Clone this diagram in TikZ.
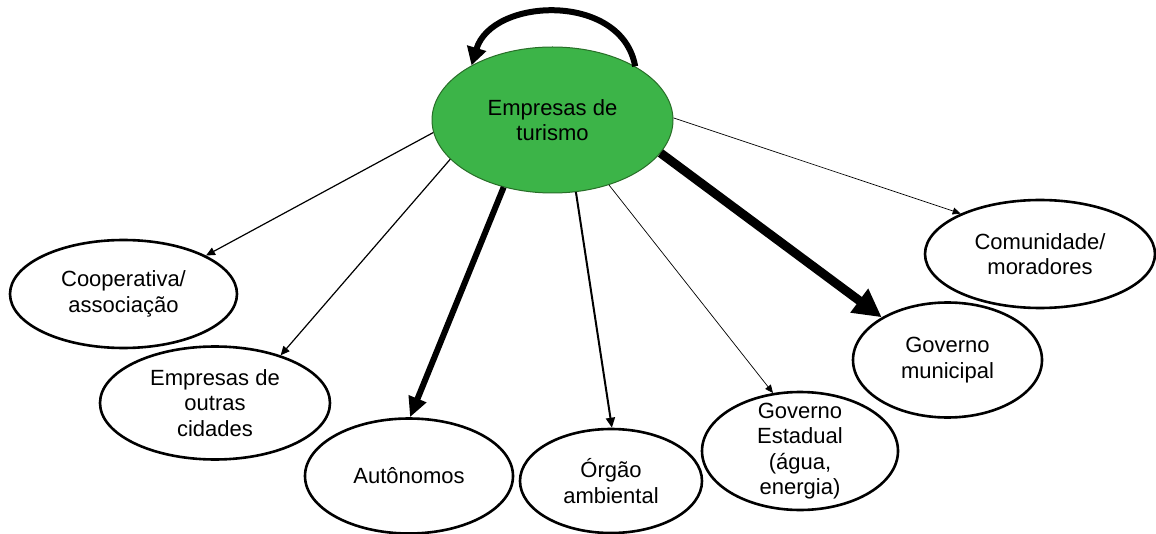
\documentclass[tikz,border=0pt]{standalone}
\usepackage{xcolor}
\usepackage{fontspec}
\setmainfont{Liberation Sans}
\usepackage{tikz}
\usetikzlibrary{positioning,arrows.meta,shapes.geometric}
\definecolor{hubgreen}{RGB}{60,180,72}
\definecolor{hubedge}{RGB}{40,110,40}
\tikzset{
  actor/.style ={ellipse, draw=black, line width=1.3pt, fill=white, inner sep=0pt,
                 align=center, font=\fontsize{11}{12.65}\selectfont},
  hub/.style   ={actor, draw=hubedge, line width=0.5pt, fill=hubgreen},
  hairlink/.style ={-{Triangle[length=4pt,width=3.5pt]}, line width=0.35pt},
  thinlink/.style ={-{Triangle[length=4.5pt,width=4pt]}, line width=0.6pt},
  midlink/.style  ={-{Triangle[length=5pt,width=4.5pt]}, line width=1pt},
  thicklink/.style={-{Triangle[length=10pt,width=9pt]}, line width=3pt},
  heavylink/.style={-{Triangle[length=14pt,width=14pt]}, line width=4.5pt},
}
\begin{document}
\begin{tikzpicture}[x=0.5pt,y=-0.5pt]
\useasboundingbox (0,0) rectangle (1156,534);
\node[hub, minimum width=120.5pt, minimum height=73pt] (emp) at (552.5,120) {Empresas de\\ turismo};
\node[actor, minimum width=113.5pt, minimum height=54pt] (coop) at (123.5,294) {Cooperativa/\\ associação};
\node[actor, minimum width=115pt, minimum height=56.5pt] (outras) at (215,403) {Empresas de\\ outras\\ cidades};
\node[actor, minimum width=104pt, minimum height=57.5pt] (aut) at (409,476) {Autônomos};
\node[actor, minimum width=91pt, minimum height=52pt] (org) at (611,481) {Órgão\\ ambiental};
\node[actor, minimum width=98pt, minimum height=59pt, inner ysep=-6pt] (est) at (800,451) {Governo\\ Estadual\\ (água,\\ energia)};
\node[actor, minimum width=94.5pt, minimum height=57.5pt] (mun) at (947.5,360) {Governo\\ municipal};
\node[actor, minimum width=115pt, minimum height=54pt] (com) at (1040,254) {Comunidade/\\ moradores};
\draw[thinlink] (emp.186) -- (coop.25);
\draw[thinlink] (emp.201) -- (outras.36);
\draw[thicklink] (emp.234) -- (aut.89);
\draw[midlink] (emp.288) -- (org.89);
\draw[hairlink] (emp.311) -- (est.115);
\draw[heavylink] (emp.343) -- (mun.147);
\draw[hairlink] (emp.1) -- (com.153);
\draw[-{Triangle[length=9pt,width=9.5pt]}, line width=3pt]
   (emp.33) .. controls (622,-8) and (492,-3) .. (emp.146);
\end{tikzpicture}
\end{document}
